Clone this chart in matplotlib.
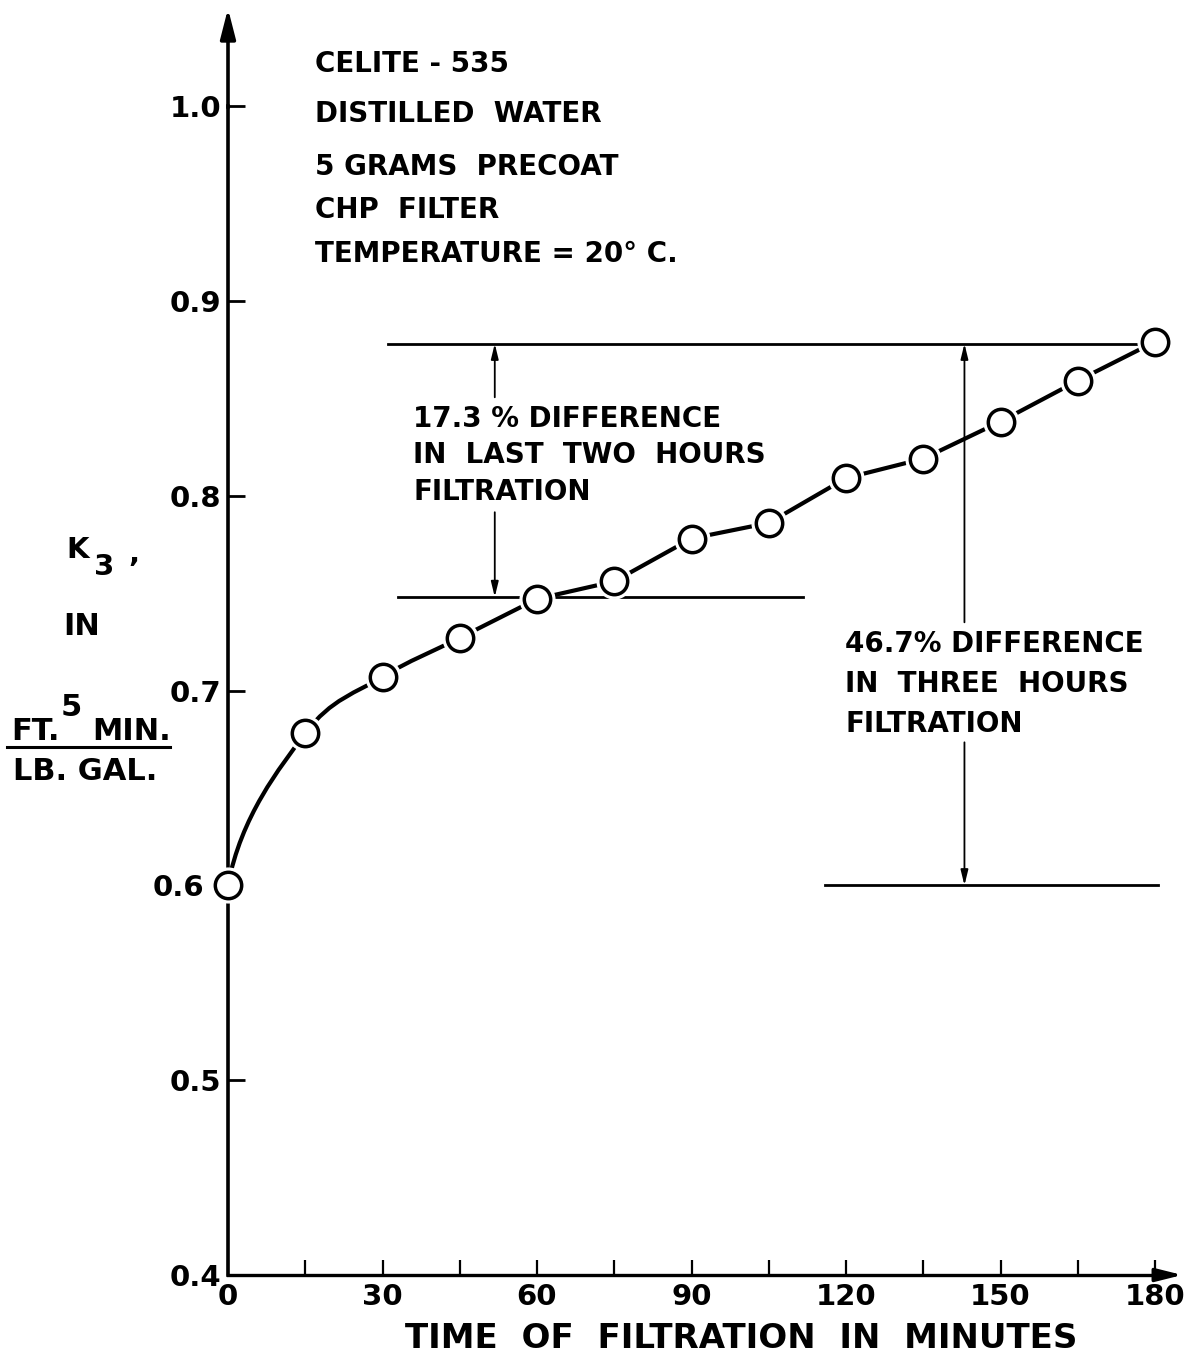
import matplotlib
matplotlib.use("Agg")
import matplotlib.pyplot as plt
from matplotlib.path import Path
from matplotlib.patches import PathPatch
from matplotlib.lines import Line2D
from matplotlib.transforms import ScaledTranslation
import numpy as np

plt.rcParams['font.family'] = ['DejaVu Sans']
plt.rcParams['font.weight'] = 'bold'

# data
minutes = [0, 15, 30, 45, 60, 75, 90, 105, 120, 135, 150, 165, 180]
k3 = [0.600, 0.678, 0.707, 0.727, 0.747, 0.756, 0.778, 0.786, 0.809, 0.819, 0.838, 0.859, 0.879]

x_ticks = list(range(0, 181, 15))
x_labels = ['0', '', '30', '', '60', '', '90', '', '120', '', '150', '', '180']
y_ticks = [0.4, 0.5, 0.6, 0.7, 0.8, 0.9, 1.0]
y_labels = ['0.4', '0.5', '0.6', '0.7', '0.8', '0.9', '1.0']

level_end = 0.878      # K3 after three hours
level_one_hr = 0.748   # K3 after one hour
level_start = 0.600    # K3 at start

conditions = ['CELITE - 535', 'DISTILLED  WATER', '5 GRAMS  PRECOAT',
              'CHP  FILTER', 'TEMPERATURE = 20° C.']
note_two_hr = ['17.3 % DIFFERENCE', 'IN  LAST  TWO  HOURS', 'FILTRATION']
note_three_hr = ['46.7% DIFFERENCE', 'IN  THREE  HOURS', 'FILTRATION']

W, H = 1203, 1354
fig = plt.figure(figsize=(W / 100, H / 100), dpi=100)
ax = fig.add_axes([228 / W, 1 - 1275 / H, (1155 - 228) / W, (1275 - 106) / H])
ax.set_xlim(0, 180)
ax.set_ylim(0.4, 1.0)


def ftext(x, y, s, size, **kw):
    fig.text(x / W, 1 - y / H, s, fontsize=size, fontweight='bold',
             va='baseline', **kw)


# curve through the points: bent at the start, straight after one hour
pts = np.column_stack([minutes, k3])
verts = [pts[0]]
codes = [Path.MOVETO]
for i in range(len(pts) - 1):
    if i < 3:
        p0 = pts[i - 1] if i > 0 else pts[i]
        p3 = pts[i + 2]
        c1 = pts[i] + (pts[i + 1] - p0) / 6
        c2 = pts[i + 1] - (p3 - pts[i]) / 6
        if i == 0:
            d = pts[1] - pts[0]
            c1 = pts[0] + np.array([d[0] / 6, d[1] / 2.2])
        if i == 2:
            c2 = pts[i + 1] - (pts[i + 1] - pts[i]) / 3
        verts += [c1, c2, pts[i + 1]]
        codes += [Path.CURVE4] * 3
    else:
        verts.append(pts[i + 1])
        codes.append(Path.LINETO)
ax.add_patch(PathPatch(Path(verts, codes), fill=False, lw=3, color='k',
                       capstyle='butt', joinstyle='round', zorder=3))

ax.plot(minutes, k3, 'o', ms=25, mfc='white', mec='white', zorder=4, clip_on=False)
ax.plot(minutes, k3, 'o', ms=19, mfc='white', mec='black', mew=2.5, zorder=5,
        clip_on=False)

# reference levels
ax.plot([31, 180], [level_end, level_end], color='k', lw=2, zorder=2)
ax.plot([33, 111.7], [level_one_hr, level_one_hr], color='k', lw=2, zorder=2)
ax.plot([116, 180.5], [level_start, level_start], color='k', lw=2, zorder=2,
        clip_on=False)

arr = dict(arrowstyle='-|>,head_length=0.9,head_width=0.22', lw=1.3, color='k',
           shrinkA=0, shrinkB=0, mutation_scale=10)
ax.annotate('', xy=(51.8, level_end), xytext=(51.8, 0.8505), arrowprops=arr)
ax.annotate('', xy=(51.8, level_one_hr), xytext=(51.8, 0.7915), arrowprops=arr)
ax.annotate('', xy=(143, level_end), xytext=(143, 0.735), arrowprops=arr)
ax.annotate('', xy=(143, level_start), xytext=(143, 0.6734), arrowprops=arr)

# axes
for s in ['top', 'right']:
    ax.spines[s].set_visible(False)
ax.spines['left'].set_linewidth(2.6)
ax.spines['bottom'].set_linewidth(2.4)
ax.annotate('', xy=(0, 1.05), xytext=(0, 0.999), annotation_clip=False,
            arrowprops=dict(arrowstyle='-|>,head_length=0.9,head_width=0.23',
                            lw=2.6, color='k', shrinkA=0, shrinkB=0,
                            mutation_scale=20))
ax.annotate('', xy=(185.3, 0.4), xytext=(179.8, 0.4), annotation_clip=False,
            arrowprops=dict(arrowstyle='-|>,head_length=0.8,head_width=0.2',
                            lw=2.4, color='k', shrinkA=0, shrinkB=0,
                            mutation_scale=20))

ax.set_xticks(x_ticks)
ax.set_xticklabels(x_labels)
ax.set_yticks(y_ticks)
ax.set_yticklabels(y_labels)
ax.tick_params(axis='x', direction='in', length=11, width=1.6, pad=6, labelsize=21)
ax.tick_params(axis='y', direction='in', length=12, width=2, pad=5, labelsize=21)
lbl = ax.get_yticklabels()[2]
lbl.set_transform(lbl.get_transform() + ScaledTranslation(-0.17, 0, fig.dpi_scale_trans))

# texts
for s, y in zip(conditions, [72, 122, 175, 218, 262]):
    ftext(315, y, s, 20)
for s, y in zip(note_two_hr, [427, 463, 500]):
    ftext(413, y, s, 20)
for s, y in zip(note_three_hr, [652, 692, 732]):
    ftext(845, y, s, 20)

ftext(741, 1348, 'TIME  OF  FILTRATION  IN  MINUTES', 24.5, ha='center')

ftext(66, 558, 'K', 21)
ftext(94, 575, '3', 21)
ftext(128, 562, ',', 21)
ftext(63, 635, 'IN', 22)
ftext(11, 740, 'FT.', 22)
ftext(61, 716, '5', 22)
ftext(92, 740, 'MIN.', 22)
fig.add_artist(Line2D([7 / W, 170 / W], [1 - 747 / H, 1 - 747 / H], color='k', lw=2.2))
ftext(13, 780, 'LB. GAL.', 22)

fig.savefig('out.png', dpi=100)
